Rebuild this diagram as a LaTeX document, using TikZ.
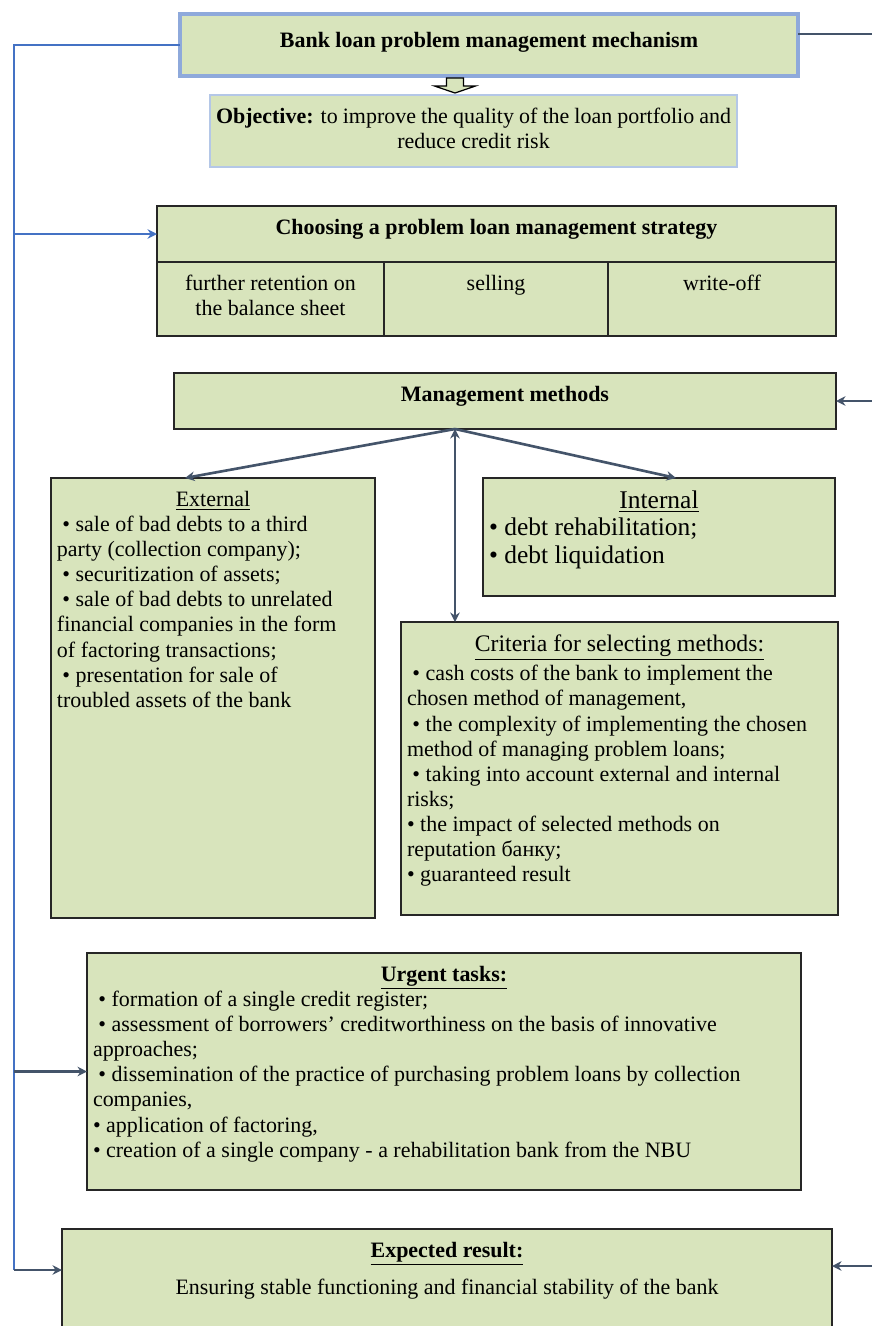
\documentclass[tikz,border=0pt]{standalone}
\usepackage{fontspec}
\setmainfont{Liberation Serif}
\usetikzlibrary{arrows.meta,calc,positioning}
\definecolor{boxgreen}{RGB}{216,228,188}
\definecolor{titleblue}{RGB}{142,169,219}
\definecolor{objblue}{RGB}{180,199,231}
\definecolor{linkblue}{RGB}{68,114,196}
\definecolor{linkslate}{RGB}{68,84,106}
% text block pinned to the top of a box of given width and height
\newcommand{\boxtext}[3]{\parbox[c][\dimexpr#2-0.52cm\relax][t]{\dimexpr#1-0.24cm\relax}{#3}}
\newcommand{\itm}{\hspace*{0.25em}\textbullet\ }
\tikzset{
    box/.style = {draw = black!85, fill = boxgreen, line width = 0.8pt, anchor = north west,
                  inner xsep = 0.12cm, inner ysep = 0.26cm, outer sep = 0pt},
    cell/.style = {box, line width = 1.1pt},
    link/.style = {draw = linkslate, line width = 1.2pt, -{Stealth[length = 1.9mm, width = 1.9mm]}},
    fan/.style = {link, line width = 1.5pt}
}
\begin{document}
\begin{tikzpicture}[
    font = \fontsize{12.5}{14.3}\selectfont
]
\useasboundingbox (0,0) rectangle (17.44,-26.52);
\clip (0,0) rectangle (17.44,-26.52);
\node[box] (title) [draw = titleblue, line width = 2.2pt] at (3.6,-0.28) {\boxtext{12.36cm}{1.24cm}{\centering\vspace*{0.1cm}\textbf{Bank loan problem management mechanism}}};
\node[box] (obj) [draw = objblue, line width = 0.6pt] at (4.2,-1.9) {\boxtext{10.54cm}{1.44cm}{\centering\textbf{Objective:} to improve the quality of the loan portfolio and\\ reduce credit risk}};
\node[cell] (choose) at (3.14,-4.12) {\boxtext{13.58cm}{1.12cm}{\centering\textbf{Choosing a problem loan management strategy}}};
\node[cell] (keep) at (choose.south west) {\boxtext{4.54cm}{1.48cm}{\centering further retention on\\ the balance sheet}};
\node[cell] (sell) at (keep.north east) {\boxtext{4.48cm}{1.48cm}{\centering selling}};
\node[cell] (writeoff) at (sell.north east) {\boxtext{4.56cm}{1.48cm}{\centering write-off}};
\node[box] (mgmt) at (3.48,-7.46) {\boxtext{13.24cm}{1.12cm}{\centering\textbf{Management methods}}};
\node[box] (ext) at (1.02,-9.56) {\boxtext{6.48cm}{8.8cm}{{\centering\underline{External}\par}
    \itm sale of bad debts to a third\\ party (collection company);\\
    \itm securitization of assets;\\
    \itm sale of bad debts to unrelated\\ financial companies in the form\\ of factoring transactions;\\
    \itm presentation for sale of\\ troubled assets of the bank}};
\node[box] (int) at (9.66,-9.56) {\boxtext{7.04cm}{2.36cm}{\fontsize{14.5}{15.5}\selectfont{\centering\underline{Internal}\par}
    \textbullet\ debt rehabilitation;\\
    \textbullet\ debt liquidation}};
\node[box] (crit) at (8.02,-12.44) {\boxtext{8.74cm}{5.86cm}{{\centering\fontsize{13.5}{15}\selectfont\underline{Criteria for selecting methods:}\par}
    \vspace{0.08cm}
    \itm cash costs of the bank to implement the\\ chosen method of management,\\
    \itm the complexity of implementing the chosen\\ method of managing problem loans;\\
    \itm taking into account external and internal\\ risks;\\
    \textbullet\ the impact of selected methods on\\ reputation банку;\\
    \textbullet\ guaranteed result}};
\node[box] (urgent) at (1.74,-19.06) {\boxtext{14.28cm}{4.74cm}{{\centering\textbf{\underline{Urgent tasks:}}\par}
    \itm formation of a single credit register;\\
    \itm assessment of borrowers' creditworthiness on the basis of innovative\\ approaches;\\
    \itm dissemination of the practice of purchasing problem loans by collection\\ companies,\\
    \textbullet\ application of factoring,\\
    \textbullet\ creation of a single company - a rehabilitation bank from the NBU}};
\node[box] (expect) at (1.24,-24.58) {\boxtext{15.4cm}{2.1cm}{\centering\textbf{\underline{Expected result:}}\par\vspace{0.24cm}
    Ensuring stable functioning and financial stability of the bank\par}};
% hollow arrow under the title
\coordinate (harrow) at (9.1,-1.56);
\draw[fill = boxgreen, line width = 0.7pt] (harrow) ++(-0.17,0) -- ++(0,-0.16) -- ++(-0.24,0) -- ++(0.41,-0.14)
    -- ++(0.41,0.14) -- ++(-0.24,0) -- ++(0,0.16) -- cycle;
% arrows on the left
\coordinate (lrail) at (0.28,-25.4);
\draw[draw = linkblue, line width = 1.2pt] (title.west) -| (lrail);
\draw[link, draw = linkblue] (lrail |- choose.west) -- (choose.west);
\draw[link] (lrail |- urgent.west) -- (urgent.west);
\draw[link] (lrail) -- (lrail -| expect.west);
% arrows on the right
\coordinate (rrail) at (17.9,-25.32);
\draw[draw = linkslate, line width = 1.2pt] ([yshift = 0.22cm]title.east) -| (rrail);
\draw[link] (rrail |- mgmt.east) -- (mgmt.east);
\draw[link] (rrail) -- (rrail -| expect.east);
% methods
\coordinate (fork) at (9.1,-8.58);
\path[fan]
(fork) edge ([xshift = -0.56cm]ext.north)
(fork) edge ([xshift = 0.34cm]int.north)
(fork) edge (fork |- crit.north);
\end{tikzpicture}
\end{document}
